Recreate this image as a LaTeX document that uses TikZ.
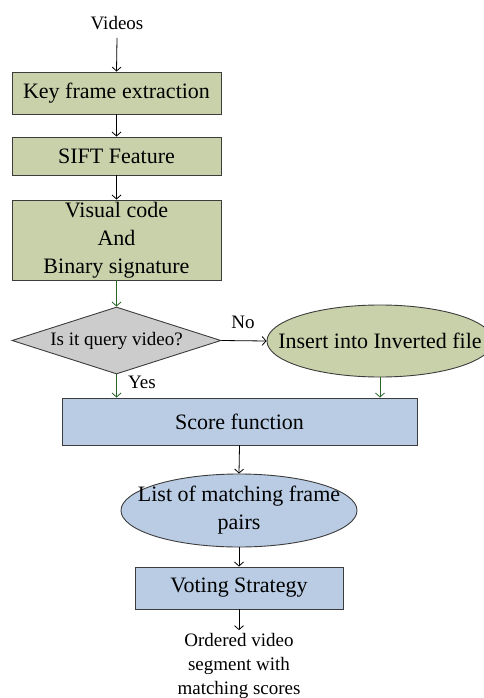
\documentclass[tikz,border=0pt]{standalone}
\usepackage{fontspec}
\setmainfont{Liberation Serif}
\usetikzlibrary{shapes.geometric,arrows.meta}
\definecolor{boxgreen}{RGB}{201,209,171}
\definecolor{boxblue}{RGB}{185,204,228}
\definecolor{diagray}{RGB}{204,204,204}
\definecolor{arrgreen}{RGB}{40,100,40}
\definecolor{edgegray}{RGB}{60,60,60}
\tikzset{
  big/.style={font=\fontsize{22}{28}\selectfont},
  small/.style={font=\fontsize{19}{24}\selectfont},
  gbox/.style={draw=edgegray,line width=0.9pt,fill=boxgreen,rectangle,inner sep=0pt,big,align=center},
  bbox/.style={draw=edgegray,line width=0.9pt,fill=boxblue,rectangle,inner sep=0pt,big,align=center},
  arr/.style={line width=0.8pt,-{Straight Barb[length=4pt,width=9pt]}},
  garr/.style={arr,draw=arrgreen},
}
\begin{document}
\begin{tikzpicture}[x=1pt,y=-1pt]
\useasboundingbox (0,0) rectangle (483,698);
\node[small,inner sep=0pt] (videos) at (117,23) {Videos};
\node[gbox,minimum width=209pt,minimum height=42pt] (kf) at (116.5,93) {Key frame extraction};
\node[gbox,minimum width=209pt,minimum height=38pt] (sift) at (116.5,156) {SIFT Feature};
\node[gbox,minimum width=209pt,minimum height=80pt] (vc) at (116.5,240) {Visual code\\And\\Binary signature};
\node[diamond,draw=edgegray,line width=0.9pt,fill=diagray,inner sep=0pt,minimum width=209pt,minimum height=67pt,aspect=3.1] (dia) at (116.5,340.5) {};
\node[small] at (dia) {Is it query video?};
\node[ellipse,draw=edgegray,line width=0.9pt,fill=boxgreen,inner sep=0pt,minimum width=226pt,minimum height=72pt] (ins) at (380,341) {};
\node[big] at (ins) {Insert into Inverted file};
\node[bbox,minimum width=355pt,minimum height=47pt] (score) at (239.5,421.5) {Score function};
\node[ellipse,draw=edgegray,line width=0.9pt,fill=boxblue,inner sep=0pt,minimum width=236pt,minimum height=73pt] (list) at (239,510.5) {};
\node[big,align=center] at (list) {List of matching frame\\pairs};
\node[bbox,minimum width=208pt,minimum height=42pt] (vote) at (239,588) {Voting Strategy};
\node[small,align=center,inner sep=0pt] (out) at (239,666) {Ordered video\\segment with\\matching scores};
\node[small] (no) at (243,322) {No};
\node[small] (yes) at (142,382) {Yes};
\draw[arr] ([yshift=-8pt]videos.south) -- (kf.north);
\draw[arr] (kf.south) -- (sift.north);
\draw[arr] (sift.south) -- (vc.north);
\draw[garr] (vc.south) -- (dia.north);
\draw[arr] (dia.east) -- (ins.west);
\draw[garr] (dia.south) -- (dia.south |- score.north);
\draw[garr] (ins.south) -- (ins.south |- score.north);
\draw[arr] (score.south) -- (list.north);
\draw[arr] (list.south) -- (vote.north);
\draw[arr] (vote.south) -- ([yshift=3pt]out.north);
\end{tikzpicture}
\end{document}
